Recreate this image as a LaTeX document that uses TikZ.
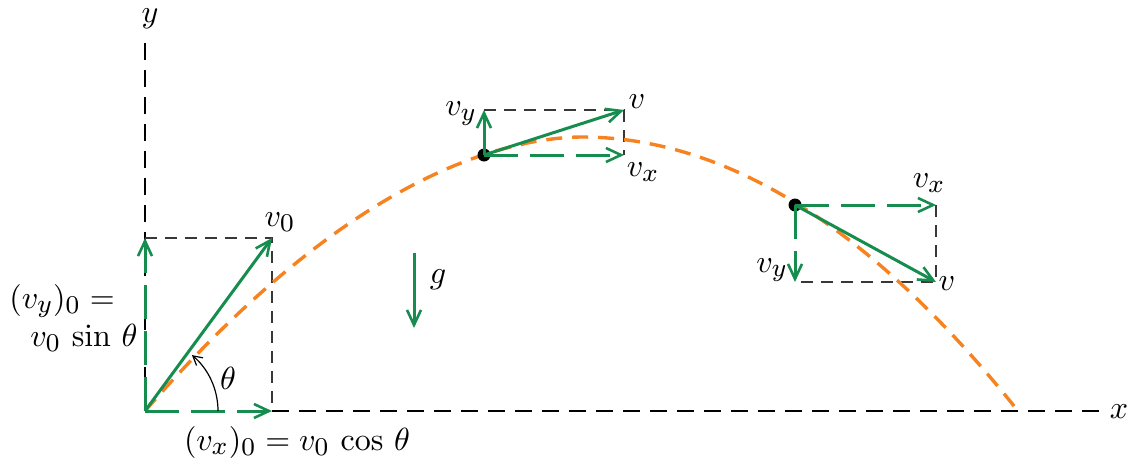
\documentclass[tikz,border=0pt]{standalone}
\usetikzlibrary{arrows.meta}
\DeclareMathSizes{10}{10}{8}{6}
\definecolor{vgreen}{RGB}{22,140,78}
\definecolor{traj}{RGB}{246,130,32}
\definecolor{boxgray}{RGB}{55,55,55}
\tikzset{
  lbl/.style={inner sep=0pt, scale=1.6},
  axisline/.style={draw=black, line width=1pt, dash pattern=on 8.5pt off 5pt},
  boxline/.style={draw=boxgray, line width=0.7pt, dash pattern=on 6pt off 4pt},
  trajline/.style={draw=traj, line width=1.7pt, dash pattern=on 8pt off 5pt},
  vec/.style={draw=vgreen, line width=1.5pt, -{Straight Barb[length=7.5pt,width=7pt,line width=1.3pt]}},
  compvec/.style={vec, dash pattern=on 17pt off 6pt},
  dot/.style={circle, fill=black, inner sep=0pt, minimum size=6.5pt},
}
\begin{document}
\begin{tikzpicture}[x=0.5pt,y=-0.5pt]
\useasboundingbox (0,0) rectangle (1128,465);
% coordinates
\coordinate (O) at (145,411);
\coordinate (V0) at (272,238);
\coordinate (VX0) at (272,411);
\coordinate (VY0) at (145,238);
\coordinate (Ytop) at (145,40);
\coordinate (Xend) at (1106,411);
\coordinate (P1x) at (624,155);
\coordinate (P1y) at (484,110);
\coordinate (P1v) at (624,110);
\coordinate (P2x) at (936,205);
\coordinate (P2y) at (795,282);
\coordinate (P2v) at (936,282);
\coordinate (G1) at (414,253);
\coordinate (G2) at (414,328);
% axes
\draw[axisline] (O) -- (Ytop);
\draw[axisline] (VX0) -- (Xend);
% guide boxes
\draw[boxline] (VY0) -- (V0) -- (VX0);
\draw[boxline] (P1y) -- (P1v) -- (P1x);
\draw[boxline] (P2x) -- (P2v) -- (P2y);
% trajectory
\draw[trajline] plot[domain=145:581, samples=90] (\x, {137+274*((581.5-\x)/436.5)^1.83})
  -- plot[domain=581:1018, samples=90] (\x, {137+274*((\x-581.5)/436.5)^2});
% points
\node[dot] (P1) at (484,155) {};
\node[dot] (P2) at (795,205) {};
% initial vectors
\draw[compvec] (O) -- (VX0);
\draw[compvec] (O) -- (VY0);
\draw[vec] (O) -- (V0);
% point 1 vectors
\draw[compvec] (P1.center) -- (P1x);
\draw[vec] (P1.center) -- (P1y);
\draw[vec] (P1.center) -- (P1v);
% point 2 vectors
\draw[compvec] (P2.center) -- (P2x);
\draw[compvec] (P2.center) -- (P2y);
\draw[vec] (P2.center) -- (P2v);
% gravity
\draw[vec] (G1) -- (G2);
% angle arc
\draw[black, line width=0.6pt, -{Straight Barb[length=4.5pt,width=5pt]}] (O) ++(36.5pt,0) arc[start angle=0, end angle=50, radius=36.5pt];
% labels
\node[lbl] (ly) at (150,19) {$y$};
\node[lbl] (lx) at (1119,412) {$x$};
\node[lbl] (lv0) at (280,222) {$v_0$};
\node[lbl] (lvy0) at (62,301) {$(v_y)_0 =$};
\node[lbl] (lvy0b) at (84,338) {$v_0\,\sin\,\theta$};
\node[lbl] (lvx0) at (297,442) {$(v_x)_0 = v_0\,\cos\,\theta$};
\node[lbl] (lth) at (228,378) {$\theta$};
\node[lbl] (lg) at (438,280) {$g$};
\node[lbl] (l1vy) at (461,114) {$v_y$};
\node[lbl] (l1v) at (637,102) {$v$};
\node[lbl] (l1vx) at (643,172) {$v_x$};
\node[lbl] (l2vx) at (929,183) {$v_x$};
\node[lbl] (l2vy) at (772,270) {$v_y$};
\node[lbl] (l2v) at (947,284) {$v$};
\end{tikzpicture}
\end{document}
